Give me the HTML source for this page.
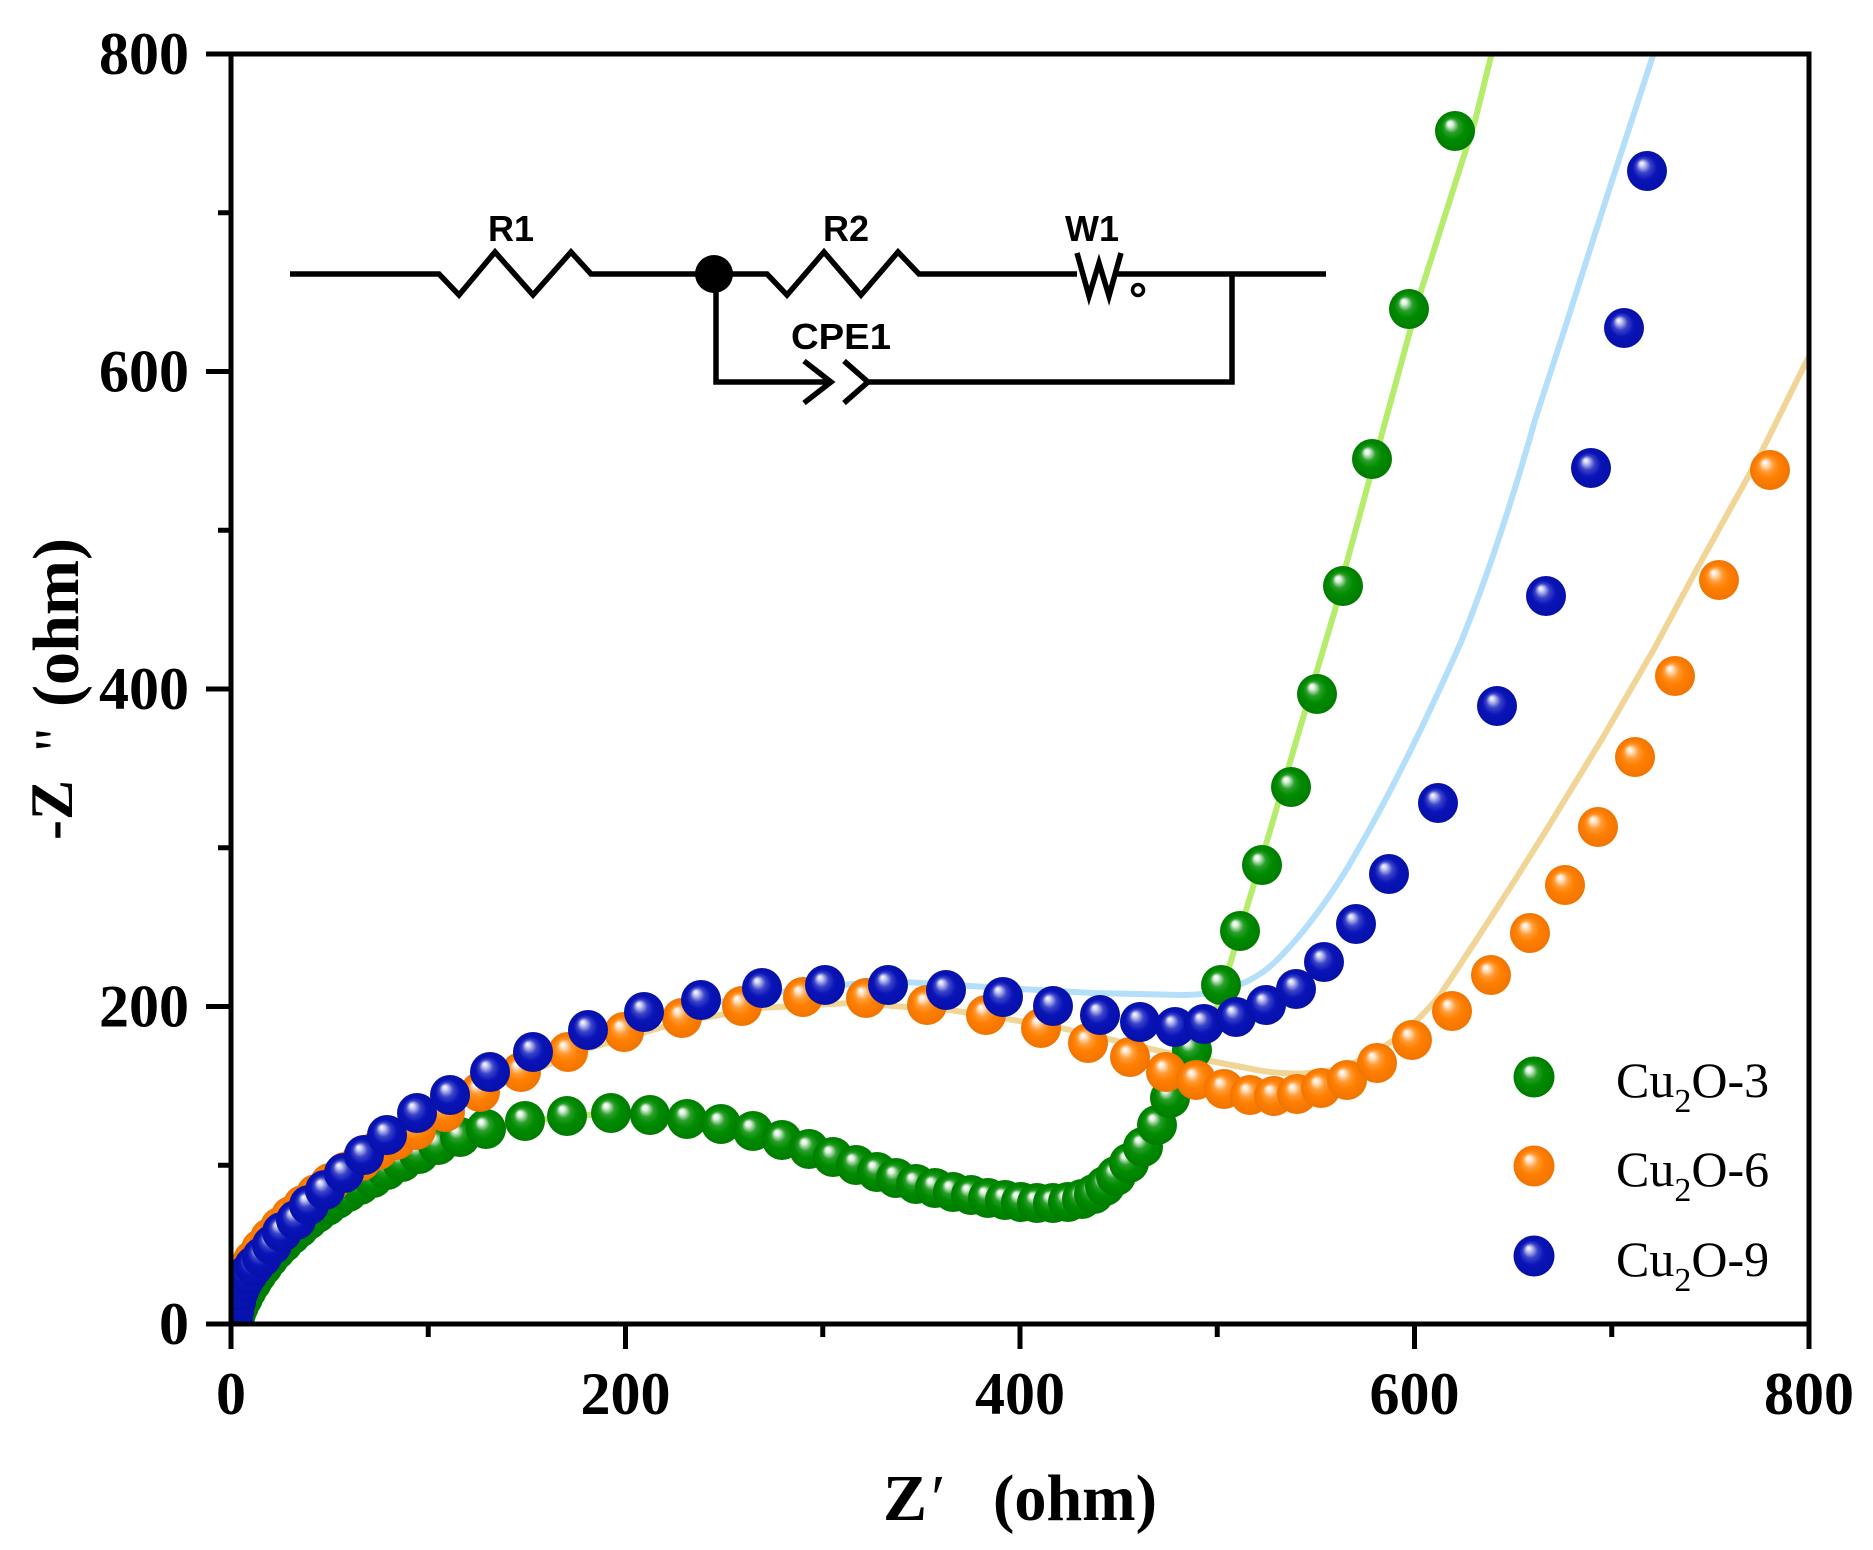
<!DOCTYPE html>
<html><head><meta charset="utf-8"><style>
html,body{margin:0;padding:0;background:#fff;}
svg{display:block;}
</style></head><body>
<svg width="1873" height="1550" viewBox="0 0 1873 1550" xmlns="http://www.w3.org/2000/svg">
<defs>
<radialGradient id="gG" cx="0.5" cy="0.5" r="0.5" fx="0.36" fy="0.3">
<stop offset="0" stop-color="#ffffff"/><stop offset="0.13" stop-color="#dff0df"/><stop offset="0.36" stop-color="#2a9e2a"/><stop offset="0.6" stop-color="#008c00"/><stop offset="1" stop-color="#007c00"/>
</radialGradient>
<radialGradient id="gO" cx="0.5" cy="0.5" r="0.5" fx="0.36" fy="0.3">
<stop offset="0" stop-color="#ffffff"/><stop offset="0.13" stop-color="#ffe6cc"/><stop offset="0.36" stop-color="#ff9a33"/><stop offset="0.6" stop-color="#ff7f00"/><stop offset="1" stop-color="#f07400"/>
</radialGradient>
<radialGradient id="gB" cx="0.5" cy="0.5" r="0.5" fx="0.36" fy="0.3">
<stop offset="0" stop-color="#ffffff"/><stop offset="0.13" stop-color="#c8cbf0"/><stop offset="0.36" stop-color="#3a43c8"/><stop offset="0.6" stop-color="#0a14b8"/><stop offset="1" stop-color="#0610a8"/>
</radialGradient>
<clipPath id="pc"><rect x="231" y="54" width="1578" height="1270"/></clipPath>
</defs>

<!-- circuit -->
<g stroke="#000" stroke-width="5.5" fill="none" stroke-linejoin="miter">
<polyline points="290,274 439,274 459,295 495,252 533,295 571,252 591,274 767,274 787,295 824,252 861,295 898,252 919,274 1077,274"/>
<polyline points="1077,253 1089,296 1099,263 1109,296 1121,253"/>
<line x1="1117" y1="274" x2="1326" y2="274"/>
<circle cx="1138" cy="290" r="5.5" stroke-width="3.5"/>
<polyline points="716,274 716,382 831,382"/>
<polyline points="804,361 831,382 804,403"/>
<polyline points="844,361 868,382 844,403"/>
<polyline points="868,382 1232,382 1232,274"/>
</g>
<circle cx="714" cy="274" r="19" fill="#000"/>
<g font-family="Liberation Sans, Arial, sans-serif" font-weight="bold" font-size="36" fill="#000" text-anchor="middle">
<text x="511" y="241">R1</text>
<text x="846" y="241">R2</text>
<text x="1092" y="241">W1</text>
<text x="841" y="349" textLength="100" lengthAdjust="spacingAndGlyphs">CPE1</text>
</g>

<g clip-path="url(#pc)">
<!-- fit lines -->
<g fill="none" stroke-width="6" stroke-linejoin="round" stroke-linecap="round">
<path stroke="#b5ec6c" d="M234,1322 L243,1298 L257,1274 L276,1250 L299,1228 L327,1206 L360,1185 L402,1162 L460,1137 L525,1121 L611,1113 L687,1119 L753,1131 L833,1157 L896,1178 L953,1192 L1005,1200 Q1060,1206 1095,1188 Q1140,1160 1175,1095 Q1195,1060 1212,1024 L1228,971 L1244,917 L1270,831 L1300,728 L1335,610 L1345,569 L1375,459 L1421,291 L1475,121 L1495,40"/>
<path stroke="#b3dffa" d="M233,1320 L240,1288 L262,1256 L295,1222 L340,1180 L390,1140 L450,1102 L530,1060 L620,1027 L700,1005 L780,992 L853,984 L905,982 L1003,988 L1093,993 L1182,995 Q1240,995 1275,962 Q1310,928 1345,872 Q1400,780 1461,642 Q1500,545 1535,420 L1564,331 L1610,187 L1658,40"/>
<path stroke="#f0d596" d="M231,1316 L240,1283 L260,1252 L290,1220 L330,1185 L380,1150 L440,1115 L510,1080 L590,1048 L680,1022 L760,1008 L850,1003 L950,1010 L1057,1027 L1164,1052 L1257,1070 Q1300,1078 1340,1068 Q1395,1050 1440,995 Q1500,905 1550,824 L1602,739 L1654,649 L1698,567 L1759,457 L1815,344"/>
</g>

<!-- Cu2O-3 -->
<g fill="url(#gG)">
<circle cx="234" cy="1322" r="20"/><circle cx="236" cy="1314" r="20"/><circle cx="239" cy="1306" r="20"/><circle cx="243" cy="1298" r="20"/><circle cx="247" cy="1290" r="20"/><circle cx="252" cy="1282" r="20"/><circle cx="257" cy="1274" r="20"/><circle cx="263" cy="1266" r="20"/><circle cx="269" cy="1258" r="20"/><circle cx="276" cy="1250" r="20"/><circle cx="283" cy="1243" r="20"/><circle cx="291" cy="1235" r="20"/><circle cx="299" cy="1228" r="20"/><circle cx="308" cy="1220" r="20"/><circle cx="317" cy="1213" r="20"/><circle cx="327" cy="1206" r="20"/><circle cx="337" cy="1199" r="20"/><circle cx="348" cy="1192" r="20"/><circle cx="360" cy="1185" r="20"/><circle cx="373" cy="1178" r="20"/><circle cx="387" cy="1170" r="20"/><circle cx="402" cy="1162" r="20"/><circle cx="419" cy="1154" r="20"/><circle cx="438" cy="1145" r="20"/><circle cx="460" cy="1137" r="20"/><circle cx="486" cy="1129" r="20"/><circle cx="525" cy="1121" r="20"/><circle cx="567" cy="1116" r="20"/><circle cx="611" cy="1113" r="20"/><circle cx="650" cy="1115" r="20"/><circle cx="687" cy="1119" r="20"/><circle cx="721" cy="1124" r="20"/><circle cx="753" cy="1131" r="20"/><circle cx="782" cy="1140" r="20"/><circle cx="809" cy="1149" r="20"/><circle cx="833" cy="1157" r="20"/><circle cx="856" cy="1165" r="20"/><circle cx="877" cy="1172" r="20"/><circle cx="896" cy="1178" r="20"/><circle cx="916" cy="1184" r="20"/><circle cx="935" cy="1188" r="20"/><circle cx="953" cy="1192" r="20"/><circle cx="971" cy="1195" r="20"/><circle cx="988" cy="1198" r="20"/><circle cx="1005" cy="1200" r="20"/><circle cx="1021" cy="1202" r="20"/><circle cx="1037" cy="1203" r="20"/><circle cx="1053" cy="1203" r="20"/><circle cx="1068" cy="1202" r="20"/><circle cx="1082" cy="1199" r="20"/><circle cx="1094" cy="1194" r="20"/><circle cx="1105" cy="1186" r="20"/><circle cx="1116" cy="1176" r="20"/><circle cx="1129" cy="1163" r="20"/><circle cx="1143" cy="1147" r="20"/><circle cx="1157" cy="1125" r="20"/><circle cx="1170" cy="1098" r="20"/><circle cx="1192" cy="1050" r="20"/><circle cx="1221" cy="985" r="20"/><circle cx="1240" cy="931" r="20"/><circle cx="1262" cy="865" r="20"/><circle cx="1291" cy="787" r="20"/><circle cx="1317" cy="694" r="20"/><circle cx="1343" cy="586" r="20"/><circle cx="1372" cy="459" r="20"/><circle cx="1409" cy="309" r="20"/><circle cx="1455" cy="131" r="20"/>
</g>

<!-- Cu2O-6 -->
<g fill="url(#gO)">
<circle cx="231" cy="1314" r="20"/><circle cx="233" cy="1303" r="20"/><circle cx="236" cy="1292" r="20"/><circle cx="240" cy="1281" r="20"/><circle cx="246" cy="1270" r="20"/><circle cx="253" cy="1260" r="20"/><circle cx="261" cy="1249" r="20"/><circle cx="270" cy="1238" r="20"/><circle cx="280" cy="1227" r="20"/><circle cx="291" cy="1216" r="20"/><circle cx="303" cy="1205" r="20"/><circle cx="316" cy="1194" r="20"/><circle cx="330" cy="1183" r="20"/><circle cx="345" cy="1172" r="20"/><circle cx="361" cy="1161" r="20"/><circle cx="378" cy="1150" r="20"/><circle cx="396" cy="1140" r="20"/><circle cx="416" cy="1130" r="20"/><circle cx="445" cy="1112" r="20"/><circle cx="480" cy="1092" r="20"/><circle cx="521" cy="1072" r="20"/><circle cx="568" cy="1052" r="20"/><circle cx="624" cy="1032" r="20"/><circle cx="682" cy="1018" r="20"/><circle cx="742" cy="1006" r="20"/><circle cx="803" cy="997" r="20"/><circle cx="866" cy="998" r="20"/><circle cx="927" cy="1005" r="20"/><circle cx="986" cy="1015" r="20"/><circle cx="1041" cy="1028" r="20"/><circle cx="1088" cy="1043" r="20"/><circle cx="1130" cy="1057" r="20"/><circle cx="1166" cy="1072" r="20"/><circle cx="1196" cy="1080" r="20"/><circle cx="1224" cy="1089" r="20"/><circle cx="1250" cy="1095" r="20"/><circle cx="1274" cy="1096" r="20"/><circle cx="1297" cy="1094" r="20"/><circle cx="1321" cy="1088" r="20"/><circle cx="1347" cy="1080" r="20"/><circle cx="1377" cy="1063" r="20"/><circle cx="1412" cy="1040" r="20"/><circle cx="1452" cy="1011" r="20"/><circle cx="1491" cy="975" r="20"/><circle cx="1530" cy="933" r="20"/><circle cx="1565" cy="885" r="20"/><circle cx="1598" cy="827" r="20"/><circle cx="1635" cy="757" r="20"/><circle cx="1675" cy="676" r="20"/><circle cx="1719" cy="580" r="20"/><circle cx="1770" cy="470" r="20"/>
</g>

<!-- Cu2O-9 -->
<g fill="url(#gB)">
<circle cx="233" cy="1322" r="20"/><circle cx="234" cy="1312" r="20"/><circle cx="236" cy="1302" r="20"/><circle cx="239" cy="1291" r="20"/><circle cx="243" cy="1282" r="20"/><circle cx="248" cy="1274" r="20"/><circle cx="254" cy="1266" r="20"/><circle cx="262" cy="1257" r="20"/><circle cx="272" cy="1245" r="20"/><circle cx="282" cy="1232" r="20"/><circle cx="296" cy="1220" r="20"/><circle cx="309" cy="1205" r="20"/><circle cx="325" cy="1190" r="20"/><circle cx="344" cy="1173" r="20"/><circle cx="364" cy="1155" r="20"/><circle cx="387" cy="1135" r="20"/><circle cx="417" cy="1113" r="20"/><circle cx="450" cy="1095" r="20"/><circle cx="490" cy="1072" r="20"/><circle cx="533" cy="1052" r="20"/><circle cx="588" cy="1030" r="20"/><circle cx="644" cy="1012" r="20"/><circle cx="701" cy="1000" r="20"/><circle cx="762" cy="988" r="20"/><circle cx="825" cy="985" r="20"/><circle cx="888" cy="985" r="20"/><circle cx="946" cy="990" r="20"/><circle cx="1003" cy="997" r="20"/><circle cx="1053" cy="1006" r="20"/><circle cx="1100" cy="1015" r="20"/><circle cx="1140" cy="1022" r="20"/><circle cx="1175" cy="1027" r="20"/><circle cx="1204" cy="1024" r="20"/><circle cx="1236" cy="1017" r="20"/><circle cx="1266" cy="1005" r="20"/><circle cx="1296" cy="989" r="20"/><circle cx="1324" cy="962" r="20"/><circle cx="1356" cy="924" r="20"/><circle cx="1389" cy="874" r="20"/><circle cx="1438" cy="803" r="20"/><circle cx="1497" cy="706" r="20"/><circle cx="1546" cy="596" r="20"/><circle cx="1591" cy="468" r="20"/><circle cx="1624" cy="328" r="20"/><circle cx="1647" cy="171" r="20"/>
</g>
</g>

<!-- legend -->
<circle cx="1534" cy="1077" r="20.5" fill="url(#gG)"/>
<circle cx="1534" cy="1166" r="20.5" fill="url(#gO)"/>
<circle cx="1534" cy="1256" r="20.5" fill="url(#gB)"/>
<g font-family="Liberation Serif, 'Times New Roman', serif" font-size="50" fill="#000">
<text x="1616" y="1097">Cu<tspan font-size="34" dy="15">2</tspan><tspan dy="-15">O-3</tspan></text>
<text x="1616" y="1186">Cu<tspan font-size="34" dy="15">2</tspan><tspan dy="-15">O-6</tspan></text>
<text x="1616" y="1276">Cu<tspan font-size="34" dy="15">2</tspan><tspan dy="-15">O-9</tspan></text>
</g>

<!-- axes -->
<g stroke="#000" stroke-width="5" fill="none">
<rect x="231" y="54" width="1578" height="1270"/>
<path d="M206,1324H231M206,1006.5H231M206,689H231M206,371.5H231M206,54H231M218,1165.25H231M218,847.75H231M218,530.25H231M218,212.75H231"/>
<path d="M231,1324V1349M625.5,1324V1349M1020,1324V1349M1414.5,1324V1349M1809,1324V1349M428.25,1324V1337M822.75,1324V1337M1217.25,1324V1337M1611.75,1324V1337"/>
</g>
<g font-family="Liberation Serif, 'Times New Roman', serif" font-weight="bold" font-size="60" fill="#000">
<g text-anchor="end">
<text x="189" y="1344">0</text>
<text x="189" y="1026.5">200</text>
<text x="189" y="709">400</text>
<text x="189" y="391.5">600</text>
<text x="189" y="74">800</text>
</g>
<g text-anchor="middle">
<text x="231" y="1414">0</text>
<text x="625.5" y="1414">200</text>
<text x="1020" y="1414">400</text>
<text x="1414.5" y="1414">600</text>
<text x="1809" y="1414">800</text>
</g>
</g>
<!-- axis titles -->
<g font-family="Liberation Serif, 'Times New Roman', serif" font-weight="bold" fill="#000">
<text x="883" y="1520" font-size="66">Z<tspan font-weight="normal" font-style="italic">′</tspan></text>
<text x="993" y="1520" font-size="66" textLength="164" lengthAdjust="spacingAndGlyphs">(ohm)</text>
<g transform="rotate(-90)">
<text x="-840" y="72" font-size="60">-Z</text>
<text x="-752" y="76" font-size="60" font-weight="normal">"</text>
<text x="-707" y="78" font-size="66" textLength="169" lengthAdjust="spacingAndGlyphs">(ohm)</text>
</g>
</g>
</svg>
</body></html>
